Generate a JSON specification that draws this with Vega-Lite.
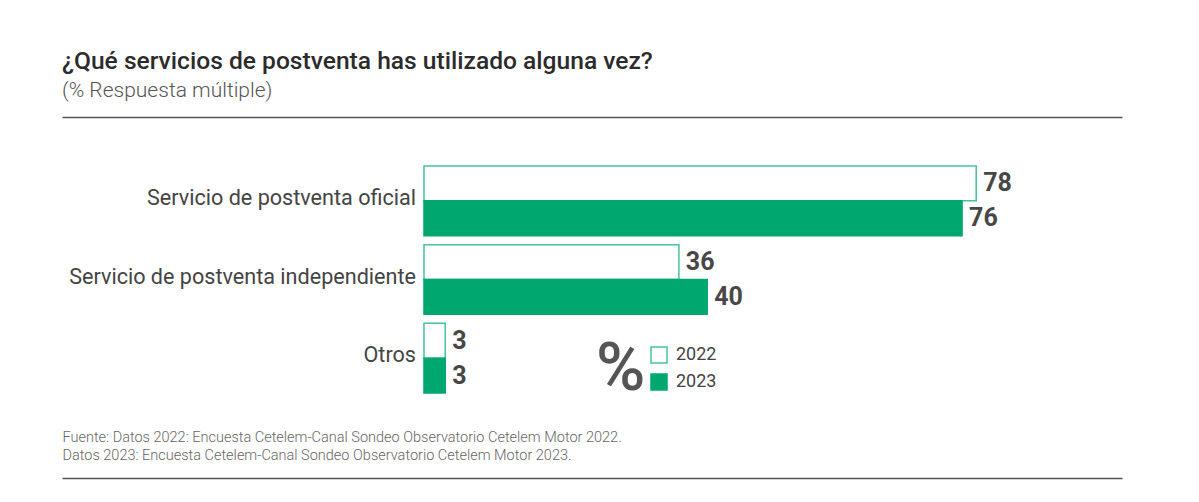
{
  "$schema": "https://vega.github.io/schema/vega-lite/v6.json",
  "width": 1060,
  "height": 361,
  "autosize": {"type": "none"},
  "padding": {"left": 62, "top": 117, "right": 77, "bottom": 24},
  "background": "white",
  "config": {"view": {"stroke": null}, "font": "Roboto"},
  "title": {
    "text": "¿Qué servicios de postventa has utilizado alguna vez?",
    "subtitle": "(% Respuesta múltiple)",
    "anchor": "start",
    "frame": "group",
    "fontSize": 24.6,
    "fontWeight": 500,
    "color": "#2b2b2b",
    "subtitleFontSize": 21,
    "subtitleFontWeight": 300,
    "subtitleColor": "#555555",
    "subtitlePadding": 5,
    "offset": 15
  },
  "data": {
    "values": [
      {"categoria": "Servicio de postventa oficial", "year": "2022", "valor": 78},
      {"categoria": "Servicio de postventa oficial", "year": "2023", "valor": 76},
      {"categoria": "Servicio de postventa independiente", "year": "2022", "valor": 36},
      {"categoria": "Servicio de postventa independiente", "year": "2023", "valor": 40},
      {"categoria": "Otros", "year": "2022", "valor": 3},
      {"categoria": "Otros", "year": "2023", "valor": 3}
    ]
  },
  "layer": [
    {
      "mark": {"type": "bar", "strokeWidth": 1.5},
      "encoding": {
        "y": {"field": "categoria", "type": "nominal", "sort": null, "scale": {"range": [49, 276], "paddingInner": 0.114, "paddingOuter": 0}, "axis": null},
        "yOffset": {"field": "year", "type": "nominal", "scale": {"paddingInner": 0, "paddingOuter": 0}},
        "x": {"field": "valor", "type": "quantitative", "scale": {"domain": [-51.13, 98.59], "nice": false, "zero": false},
              "axis": {"orient": "top", "domain": true, "domainColor": "#555555", "domainWidth": 1.5, "labels": false, "ticks": false, "grid": false, "title": null}},
        "x2": {"datum": 0},
        "fill": {"field": "year", "type": "nominal", "scale": {"range": ["#ffffff", "#00A870"]},
                 "legend": {"title": "%", "orient": "none", "legendX": 534, "legendY": 229, "titleOrient": "left", "titleFontSize": 67, "titleFontWeight": 500, "titleColor": "#555555", "titlePadding": 4, "symbolType": "square", "symbolSize": 256, "symbolStrokeWidth": 1.5, "labelFontSize": 18, "labelColor": "#444444", "labelOffset": 8, "rowPadding": 5}},
        "stroke": {"field": "year", "type": "nominal", "scale": {"range": ["#45C49A", "#00A870"]},
                 "legend": {"title": "%", "orient": "none", "legendX": 534, "legendY": 229, "titleOrient": "left", "titleFontSize": 67, "titleFontWeight": 500, "titleColor": "#555555", "titlePadding": 4, "symbolType": "square", "symbolSize": 256, "symbolStrokeWidth": 1.5, "labelFontSize": 18, "labelColor": "#444444", "labelOffset": 8, "rowPadding": 5}}
      }
    },
    {
      "mark": {"type": "text", "align": "left", "baseline": "middle", "dx": 7, "fontSize": 25, "fontWeight": "bold", "color": "#474747"},
      "encoding": {
        "y": {"field": "categoria", "type": "nominal", "sort": null},
        "yOffset": {"field": "year", "type": "nominal"},
        "x": {"field": "valor", "type": "quantitative",
              "axis": {"orient": "bottom", "domain": true, "domainColor": "#555555", "domainWidth": 1.5, "labels": false, "ticks": false, "grid": false,
                       "title": ["Fuente: Datos 2022: Encuesta Cetelem-Canal Sondeo Observatorio Cetelem Motor 2022.", "Datos 2023: Encuesta Cetelem-Canal Sondeo Observatorio Cetelem Motor 2023."],
                       "titleAnchor": "start", "titleAlign": "left", "titleX": 0, "titleY": -37, "titleFontSize": 14.5, "titleFontWeight": 300, "titleColor": "#666666", "titleLineHeight": 18, "titleBaseline": "alphabetic"}},
        "text": {"field": "valor", "type": "quantitative"}
      }
    },
    {
      "transform": [{"filter": "datum.year == '2023'"}],
      "mark": {"type": "text", "align": "right", "baseline": "middle", "dx": -8, "dy": -2, "fontSize": 21.6, "fontWeight": "normal", "color": "#444444"},
      "encoding": {
        "y": {"field": "categoria", "type": "nominal", "sort": null},
        "x": {"datum": 0, "type": "quantitative", "axis": null},
        "text": {"field": "categoria", "type": "nominal"}
      }
    }
  ],
  "resolve": {"axis": {"x": "independent"}}
}
